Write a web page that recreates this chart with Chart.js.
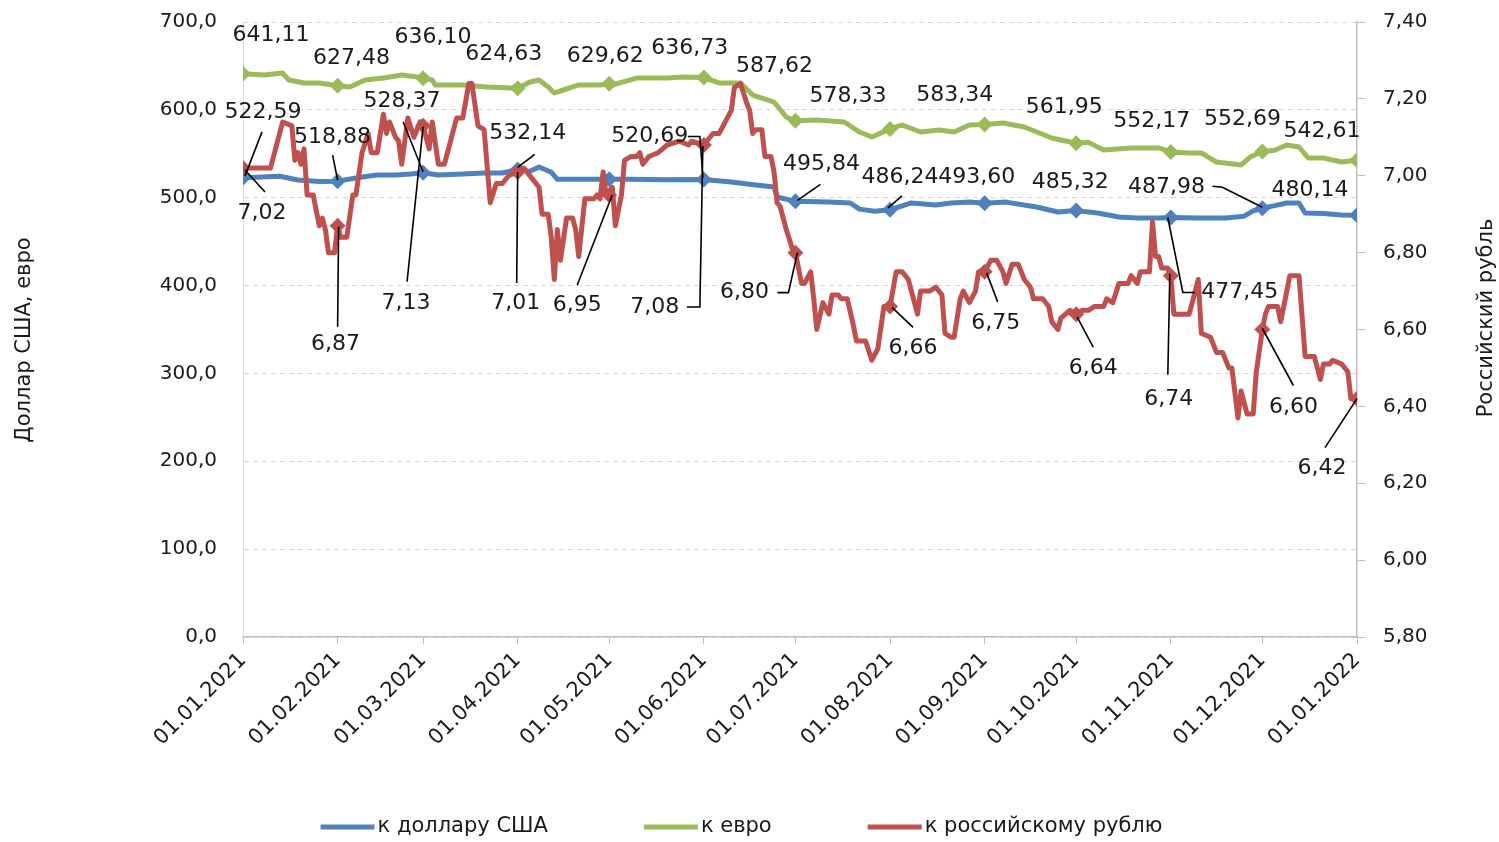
<!DOCTYPE html>
<html>
<head>
<meta charset="utf-8">
<script src="https://cdn.jsdelivr.net/npm/chart.js@4/dist/chart.umd.min.js"></script>
<style>
  html, body { margin: 0; padding: 0; background: #ffffff; }
  #wrap { width: 1499px; height: 842px; }
</style>
</head>
<body>
<div id="wrap"><canvas id="c" width="1499" height="842"></canvas></div>
<script>
// ---------- DATA ----------
const monthDays = [0, 31, 59, 90, 120, 151, 181, 212, 243, 273, 304, 334, 365];
const monthLabels = ['01.01.2021', '01.02.2021', '01.03.2021', '01.04.2021', '01.05.2021', '01.06.2021',
  '01.07.2021', '01.08.2021', '01.09.2021', '01.10.2021', '01.11.2021', '01.12.2021', '01.01.2022'];
const seriesNames = ['к доллару США', 'к евро', 'к российскому рублю'];
const leftTicks = [0, 100, 200, 300, 400, 500, 600, 700];
const rightTicks = [5.8, 6.0, 6.2, 6.4, 6.6, 6.8, 7.0, 7.2, 7.4];

const usdDays = [0,12,18,25,31,39,44,50,55,59,64,72,79,85,90,94,97,101,103,110,116,120,126,139,151,
  160,168,174,175,181,192,199,202,207,212,219,227,232,238,243,250,260,267,273,280,287,293,300,304,
  313,322,328,331,334,338,342,346,348,354,360,365];
const usdValues = [522.59,524.5,520.2,518.5,518.88,523.6,525.8,525.8,527.0,528.37,525.8,527.0,528.1,528.1,532.14,
  530.0,535.0,529.0,521.0,521.0,521.0,521.0,521.0,520.5,520.69,517.9,514.5,512.2,500.8,495.84,
  495.0,494.0,487.0,484.5,486.24,494.0,491.7,494.0,495.0,493.60,495.0,489.4,483.7,485.32,482.6,
  478.0,477.0,477.0,477.45,477.0,477.0,479.0,485.0,487.98,491.0,494.0,494.0,482.6,482.0,480.3,480.14];

const eurDays = [0,7,13,15,20,25,31,35,40,46,52,56,59,62,63,72,80,90,94,97,100,102,105,110,117,
  120,121,129,139,144,151,156,163,167,174,178,181,188,197,202,206,212,216,222,228,233,238,243,
  249,256,265,273,277,282,291,300,304,310,314,319,327,330,334,338,342,346,349,354,360,365];
const eurValues = [641.11,639.7,641.9,634.0,630.6,630.6,627.48,626.0,634.0,636.2,639.7,638.0,636.10,634.0,628.3,
  628.3,626.0,624.63,631.7,634.0,626.0,619.2,622.6,628.3,628.3,629.62,628.3,636.2,636.2,637.4,
  636.73,630.6,630.6,616.9,608.9,591.9,587.62,588.5,586.2,574.8,569.1,578.33,582.8,574.8,577.0,
  574.8,582.8,583.34,585.0,580.5,568.0,561.95,563.0,554.3,556.6,556.6,552.17,551.0,550.9,540.6,
  537.2,546.3,552.69,554.0,560.0,557.7,545.2,545.2,540.6,542.61];

const rubDays = [0,9,13,16,17,18,19,20,21,23,
  25,26,27,28,30,31,32,34,36,37,
  39,41,42,44,46,47,48,50,51,52,
  54,56,58,59,61,62,64,66,68,70,
  72,74,75,77,79,81,83,85,87,90,
  92,95,97,98,100,101,102,103,104,106,
  108,109,110,112,115,116,117,118,119,120,
  121,122,124,125,127,129,130,131,133,136,
  139,143,146,147,151,153,154,156,158,160,
  161,163,165,166,167,168,170,171,173,174,
  175,176,178,180,181,183,184,186,187,188,
  190,192,193,195,196,198,200,201,204,206,
  208,210,212,214,216,218,221,222,225,227,
  229,230,232,233,235,236,238,240,241,243,
  245,247,249,250,252,254,256,258,259,262,
  264,265,267,268,271,273,275,277,279,282,
  283,285,287,290,291,293,294,296,297,298,
  299,300,301,303,304,305,307,310,313,314,
  317,319,321,323,324,326,327,329,331,332,
  334,335,336,339,340,342,343,346,348,351,
  353,354,356,357,360,362,363,365];
const rubValues = [7.02,7.02,7.14,7.13,7.04,7.06,7.03,7.07,6.95,6.95,
  6.87,6.89,6.86,6.80,6.80,6.87,6.84,6.84,6.95,6.95,
  7.06,7.11,7.06,7.06,7.16,7.11,7.14,7.10,7.09,7.03,
  7.15,7.10,7.14,7.13,7.07,7.14,7.03,7.03,7.09,7.15,
  7.15,7.24,7.24,7.13,7.12,6.93,6.98,6.98,7.00,7.01,
  7.02,6.99,6.97,6.90,6.90,6.84,6.73,6.86,6.78,6.89,
  6.89,6.86,6.79,6.94,6.94,6.95,6.94,7.01,6.95,6.95,
  6.97,6.87,6.95,7.04,7.05,7.05,7.06,7.03,7.05,7.06,
  7.08,7.09,7.08,7.09,7.08,7.10,7.11,7.11,7.14,7.17,
  7.23,7.24,7.19,7.17,7.11,7.12,7.12,7.05,7.05,7.01,
  6.93,6.92,6.86,6.81,6.80,6.72,6.72,6.75,6.68,6.60,
  6.67,6.64,6.69,6.69,6.68,6.68,6.61,6.57,6.57,6.52,
  6.55,6.66,6.66,6.75,6.75,6.73,6.64,6.70,6.70,6.71,
  6.69,6.59,6.58,6.58,6.68,6.70,6.67,6.70,6.75,6.75,
  6.78,6.78,6.75,6.72,6.77,6.77,6.73,6.71,6.68,6.68,
  6.66,6.62,6.60,6.63,6.65,6.64,6.65,6.65,6.66,6.66,
  6.68,6.67,6.72,6.72,6.74,6.72,6.75,6.75,6.75,6.88,
  6.79,6.79,6.76,6.76,6.74,6.64,6.64,6.64,6.73,6.59,
  6.58,6.54,6.54,6.50,6.50,6.37,6.44,6.38,6.38,6.49,
  6.60,6.64,6.66,6.66,6.62,6.70,6.74,6.74,6.53,6.53,
  6.47,6.51,6.51,6.52,6.51,6.49,6.42,6.42];

// ---------- LABEL LAYOUT (pixel offsets from each month marker) ----------
const usdLabelLayout = [
  {dx: 20, dy: -66, lead: [[2, -2], [19, -46]]},
  {dx: -5, dy: -44, lead: [[0, -1], [-5, -26]]},
  {dx: -21, dy: -72, lead: [[0, -1], [-20, -51]]},
  {dx: 10, dy: -36, lead: [[0, -2], [17, -15]]},
  null,
  {dx: -54, dy: -43, lead: [[-1, -2], [-4, -43], [-16, -43]]},
  {dx: 26, dy: -37, lead: [[2, -1], [25, -17]]},
  {dx: 10, dy: -33, lead: [[-2, -2], [12, -14]]},
  {dx: -8, dy: -26},
  {dx: -6, dy: -28},
  {dx: 69, dy: 75, lead: [[-3, 0], [12, 75], [24, 75]]},
  {dx: -96, dy: -21, lead: [[0, -1], [-40, -21], [-50, -22]]},
  {dx: -47, dy: -25}
];
const eurLabelLayout = [
  {dx: 28, dy: -38}, {dx: 14, dy: -27}, {dx: 10, dy: -41}, {dx: -14, dy: -34},
  {dx: -4, dy: -28}, {dx: -14, dy: -29}, {dx: -21, dy: -54}, {dx: -42, dy: -33},
  {dx: -30, dy: -29}, {dx: -12, dy: -36}, {dx: -19, dy: -31}, {dx: -20, dy: -32},
  {dx: -35, dy: -29}
];
const rubLabelLayout = [
  {dx: 19, dy: 45, lead: [[2, 2], [22, 24]]},
  {dx: -2, dy: 119, lead: [[1, 1], [0, 101]]},
  {dx: -17, dy: 177, lead: [[0, 1], [-16, 156]]},
  {dx: -2, dy: 131, lead: [[0, 0], [-1, 111]]},
  {dx: -32, dy: 110, lead: [[3, 0], [-32, 90]]},
  {dx: -49, dy: 162, lead: [[-1, 1], [-4, 162], [-17, 162]]},
  {dx: -51, dy: 40, lead: [[2, 0], [-7, 40], [-18, 40]]},
  {dx: 23, dy: 42, lead: [[2, 1], [23, 21]]},
  {dx: 11, dy: 51, lead: [[2, 1], [13, 30]]},
  {dx: 17, dy: 54, lead: [[1, 3], [17, 33]]},
  {dx: -2, dy: 124, lead: [[-1, -2], [-3, 99]]},
  {dx: 31, dy: 78, lead: [[0, -1], [31, 56]]},
  {dx: -35, dy: 70, lead: [[0, 0], [-32, 49]]}
];

// ---------- STYLE ----------
const FONT = '"DejaVu Sans", "Open Sans", sans-serif';
const COLORS = ['#4F81BD', '#9BBB59', '#C0504D'];
const TEXT = '#1a1a1a';
const AXIS = '#bfbfbf';
const PLOT = {left: 243, right: 1357, top: 22, bottom: 637};

const fmt = (v, d) => v.toFixed(d).replace('.', ',');
const toPoints = (days, vals) => days.map((d, i) => ({x: d, y: vals[i]}));
const isMonth = (ctx) => ctx.raw && monthDays.includes(ctx.raw.x);
const noVerticalPadding = (scale) => { scale.paddingTop = 0; scale.paddingBottom = 0; };

const series = [
  {days: usdDays, values: usdValues, layout: usdLabelLayout, axis: 'y'},
  {days: eurDays, values: eurValues, layout: eurLabelLayout, axis: 'y'},
  {days: rubDays, values: rubValues, layout: rubLabelLayout, axis: 'y1'}
];

const makeDataset = (s, i, order) => ({
  label: seriesNames[i],
  data: toPoints(s.days, s.values),
  yAxisID: s.axis,
  borderColor: COLORS[i],
  backgroundColor: COLORS[i],
  borderWidth: 5,
  borderJoinStyle: 'round',
  borderCapStyle: 'round',
  tension: 0,
  pointStyle: 'rectRot',
  pointRadius: (ctx) => isMonth(ctx) ? 8 : 0,
  pointHoverRadius: 0,
  pointBorderWidth: 0,
  pointBackgroundColor: COLORS[i],
  order: order
});

const pointLabelPlugin = {
  id: 'pointLabels',
  afterDatasetsDraw(chart) {
    const ctx = chart.ctx;
    const xs = chart.scales.x;
    ctx.save();
    ctx.font = '22px ' + FONT;
    ctx.fillStyle = TEXT;
    ctx.strokeStyle = '#000000';
    ctx.lineWidth = 1.6;
    ctx.textAlign = 'center';
    ctx.textBaseline = 'middle';
    series.forEach((s) => {
      const ys = chart.scales[s.axis];
      monthDays.forEach((d, i) => {
        const lay = s.layout[i];
        if (!lay) return;
        const idx = s.days.indexOf(d);
        if (idx < 0) return;
        const v = s.values[idx];
        const px = xs.getPixelForValue(d);
        const py = ys.getPixelForValue(v);
        if (lay.lead) {
          ctx.beginPath();
          lay.lead.forEach(([lx, ly], k) => {
            if (k === 0) ctx.moveTo(px + lx, py + ly); else ctx.lineTo(px + lx, py + ly);
          });
          ctx.stroke();
        }
        ctx.fillText(fmt(v, 2), px + lay.dx, py + lay.dy);
      });
    });
    ctx.restore();
  }
};

const decorPlugin = {
  id: 'decor',
  afterDraw(chart) {
    const ctx = chart.ctx;
    ctx.save();
    ctx.fillStyle = TEXT;
    ctx.font = '21px ' + FONT;
    ctx.textAlign = 'center';
    ctx.textBaseline = 'middle';
    // axis titles
    ctx.save();
    ctx.translate(25, 340);
    ctx.rotate(-Math.PI / 2);
    ctx.fillText('Доллар США, евро', 0, 0);
    ctx.restore();
    ctx.save();
    ctx.translate(1487, 318);
    ctx.rotate(-Math.PI / 2);
    ctx.fillText('Российский рубль', 0, 0);
    ctx.restore();
    // legend
    ctx.font = '21px ' + FONT;
    ctx.textAlign = 'left';
    const lineLen = 54, gap = 3, spacing = 96, y = 827;
    const items = chart.data.datasets.map((ds) => ({text: ds.label, color: ds.borderColor, w: ctx.measureText(ds.label).width}));
    const total = items.reduce((a, it) => a + lineLen + gap + it.w, 0) + spacing * (items.length - 1);
    let x = (chart.width - total) / 2 - 8;
    items.forEach((it) => {
      ctx.strokeStyle = it.color;
      ctx.lineWidth = 5;
      ctx.lineCap = 'butt';
      ctx.beginPath();
      ctx.moveTo(x, y);
      ctx.lineTo(x + lineLen, y);
      ctx.stroke();
      ctx.fillStyle = TEXT;
      ctx.fillText(it.text, x + lineLen + gap, y);
      x += lineLen + gap + it.w + spacing;
    });
    ctx.restore();
  }
};

new Chart(document.getElementById('c'), {
  type: 'line',
  data: {
    datasets: [makeDataset(series[0], 0, 2), makeDataset(series[1], 1, 1), makeDataset(series[2], 2, 0)]
  },
  options: {
    responsive: false,
    animation: false,
    devicePixelRatio: 1,
    layout: {padding: {top: PLOT.top, left: 0, right: 0, bottom: 0}},
    plugins: {legend: {display: false}, tooltip: {enabled: false}},
    events: [],
    scales: {
      x: {
        type: 'linear',
        min: monthDays[0],
        max: monthDays[monthDays.length - 1],
        afterBuildTicks: (scale) => { scale.ticks = monthDays.map((v) => ({value: v})); },
        afterFit: (scale) => { scale.height = 842 - PLOT.bottom; },
        ticks: {
          autoSkip: false,
          minRotation: 45,
          maxRotation: 45,
          padding: 4,
          color: TEXT,
          font: {family: FONT, size: 21},
          callback: (v) => monthLabels[monthDays.indexOf(v)]
        },
        grid: {drawOnChartArea: false, tickLength: 7, color: AXIS},
        border: {display: true, color: AXIS, width: 1.5}
      },
      y: {
        position: 'left',
        min: leftTicks[0],
        max: leftTicks[leftTicks.length - 1],
        afterBuildTicks: (scale) => { scale.ticks = leftTicks.map((v) => ({value: v})); },
        afterFit: (scale) => { scale.width = PLOT.left; noVerticalPadding(scale); },
        ticks: {
          padding: 26,
          color: TEXT,
          font: {family: FONT, size: 20},
          callback: (v) => fmt(v, 1)
        },
        grid: {drawTicks: false, color: '#d9d9d9', lineWidth: 1},
        border: {display: true, color: '#d9d9d9', dash: [5, 4]}
      },
      y1: {
        position: 'right',
        min: rightTicks[0],
        max: rightTicks[rightTicks.length - 1],
        afterBuildTicks: (scale) => { scale.ticks = rightTicks.map((v) => ({value: v})); },
        afterFit: (scale) => { scale.width = 1499 - PLOT.right; noVerticalPadding(scale); },
        ticks: {
          padding: 18,
          color: TEXT,
          font: {family: FONT, size: 20},
          callback: (v) => fmt(v, 2)
        },
        grid: {drawOnChartArea: false, tickLength: 8, color: AXIS},
        border: {display: true, color: AXIS, width: 1.5}
      }
    }
  },
  plugins: [pointLabelPlugin, decorPlugin]
});
</script>
</body>
</html>
